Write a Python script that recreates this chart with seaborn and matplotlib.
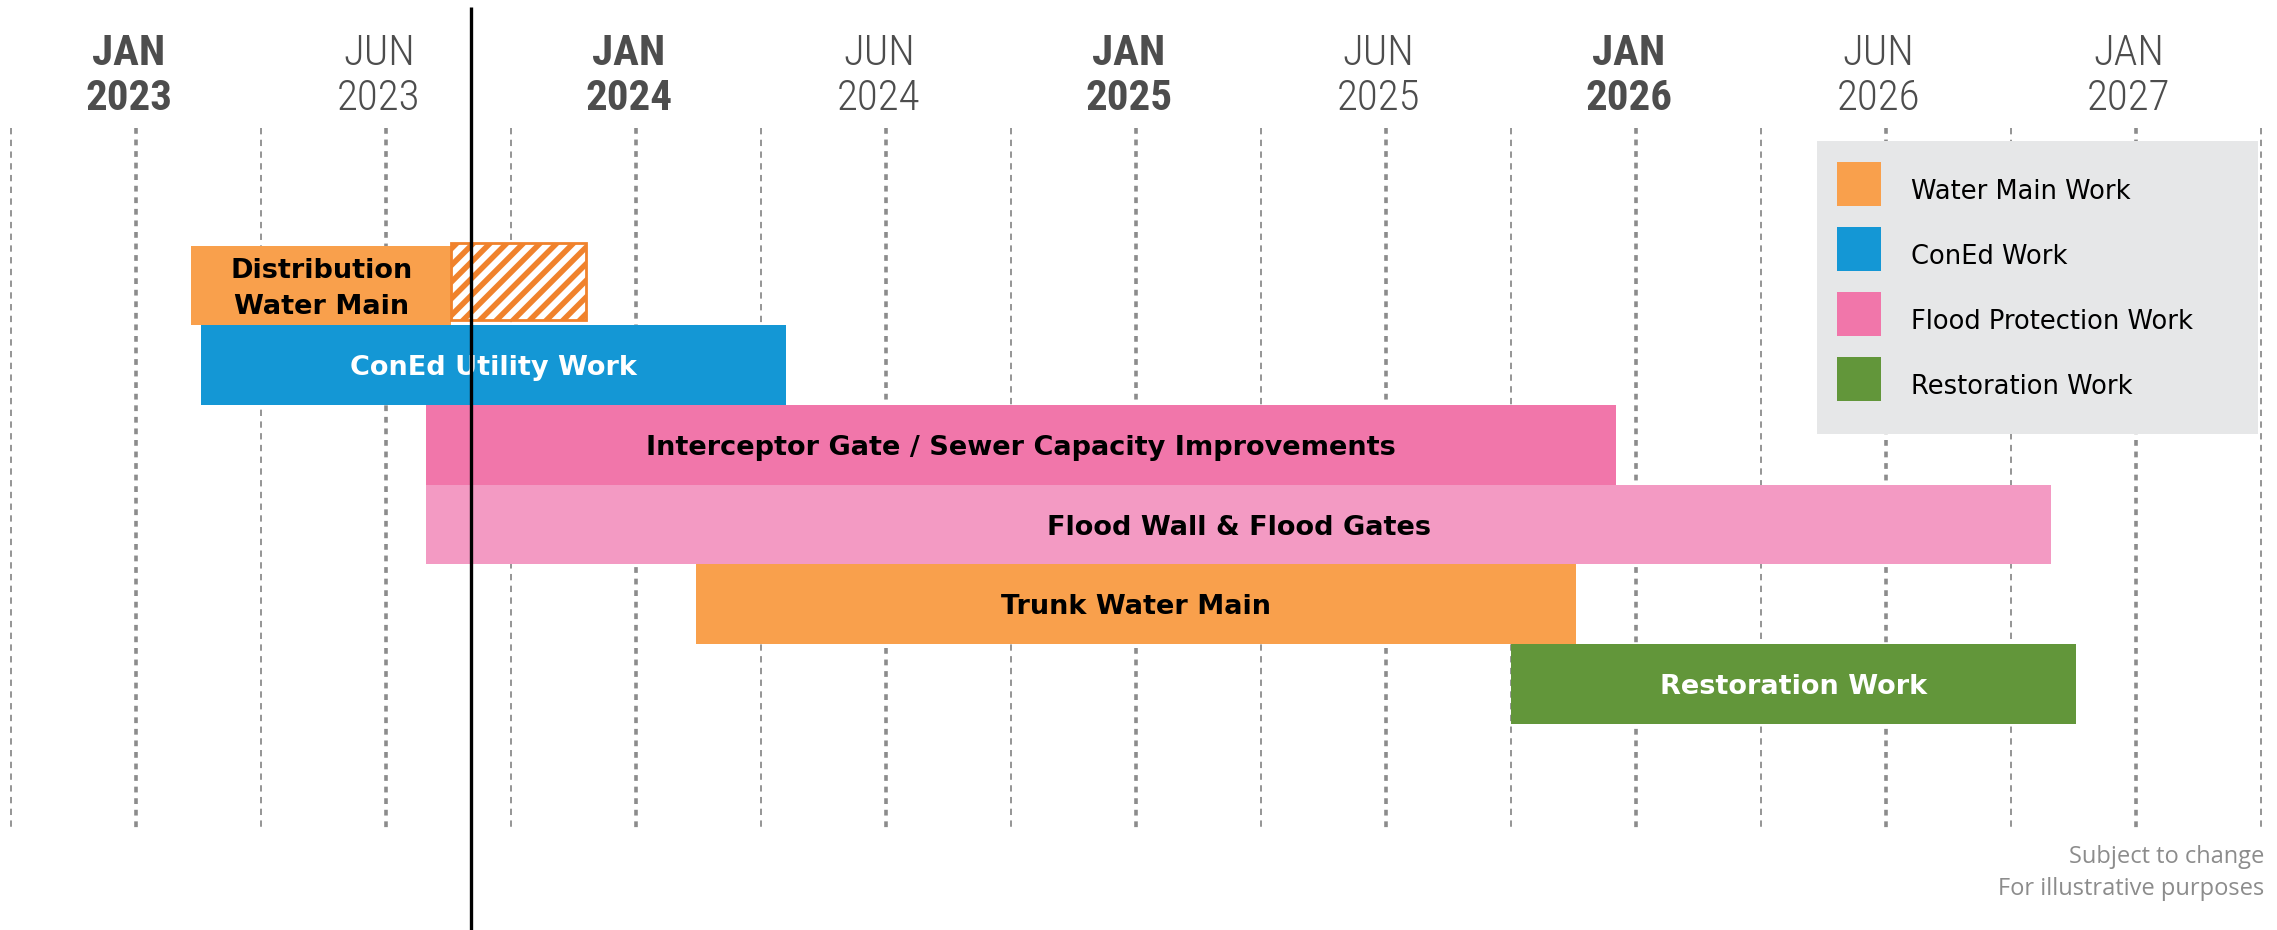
import matplotlib
matplotlib.use("Agg")
import matplotlib.pyplot as plt
from matplotlib.lines import Line2D
from matplotlib.patches import Rectangle
import pandas as pd
import seaborn as sns

# schedule, in decimal years (axis is drawn in half-year steps)
tasks = [
    "Distribution\nWater Main",
    "ConEd Utility Work",
    "Interceptor Gate / Sewer Capacity Improvements",
    "Flood Wall & Flood Gates",
    "Trunk Water Main",
    "Restoration Work",
]
starts = [2023.11, 2023.13, 2023.58, 2023.58, 2024.12, 2025.75]
ends = [2023.63, 2024.30, 2025.96, 2026.83, 2025.88, 2026.88]
categories = [
    "Water Main Work",
    "ConEd Work",
    "Flood Protection Work",
    "Flood Protection Work",
    "Water Main Work",
    "Restoration Work",
]
extension_start = 2023.63
extension_end = 2023.90
today = 2023.67

tick_pos = [2023, 2023.5, 2024, 2024.5, 2025, 2025.5, 2026, 2026.5, 2027]
tick_top = ["JAN", "JUN", "JAN", "JUN", "JAN", "JUN", "JAN", "JUN", "JAN"]
tick_bottom = ["2023", "2023", "2024", "2024", "2025", "2025", "2026", "2026", "2027"]
tick_bold = [True, False, True, False, True, False, True, False, False]

legend_labels = ["Water Main Work", "ConEd Work", "Flood Protection Work", "Restoration Work"]
legend_colors = ["#f9a04c", "#1497d5", "#f176aa", "#62963a"]
bar_colors = ["#f9a04c", "#1497d5", "#f176aa", "#f39ac3", "#f9a04c", "#62963a"]
text_colors = ["black", "white", "black", "black", "black", "white"]

df = pd.DataFrame({"task": tasks, "start": starts, "end": ends, "category": categories})

sns.set_theme(style="white")
plt.rcParams["font.family"] = ["DejaVu Sans"]
plt.rcParams["hatch.linewidth"] = 4

fig = plt.figure(figsize=(22.77, 9.30), dpi=100)
ax = fig.add_axes([0, 0, 1, 1])
ax.set_xlim(2022.727, 2027.282)
ax.set_ylim(8.091, -3.582)
ax.axis("off")

# dashed guides every quarter, heavier on JAN / JUN
for k in range(19):
    x = 2022.75 + 0.25 * k
    major = k % 2 == 1
    ax.vlines(x, -1.977, 6.814, colors="#8c8c8c",
              linewidth=2.6 if major else 1.3,
              linestyles=(0, (1.6, 1.6)) if major else (0, (3.5, 3)),
              zorder=1)

# bars
for i, row in df.iterrows():
    ax.barh(i, row["end"] - row["start"], left=row["start"], height=1.0,
            color=bar_colors[i], linewidth=0, zorder=2)
    ax.text((row["start"] + row["end"]) / 2, i + 0.04, row["task"], ha="center",
            va="center", color=text_colors[i], fontsize=19.5, fontweight="bold",
            linespacing=1.5, zorder=4)

# extended (hatched) distribution water main
ax.barh(-0.05, extension_end - extension_start, left=extension_start, height=0.97,
        facecolor="white", edgecolor="#f0822c", hatch="//", linewidth=2, zorder=2)

# today marker
ax.vlines(today, -3.49, 8.1, colors="black", linewidth=2.4, zorder=5)

# date labels
tick_font = ["Roboto Condensed", "DejaVu Sans"]
for x, top, bottom, bold in zip(tick_pos, tick_top, tick_bottom, tick_bold):
    w = "bold" if bold else "light"
    ax.text(x - 0.015, -2.907, top, ha="center", va="center", fontsize=31,
            color="#4d4d4d", fontweight=w, family=tick_font)
    ax.text(x - 0.015, -2.343, bottom, ha="center", va="center", fontsize=31,
            color="#4d4d4d", fontweight=w, family=tick_font)

# legend
ax.add_patch(Rectangle((1817 / 2277, 1 - 434 / 930), 441 / 2277, 293 / 930,
                       transform=fig.transFigure, facecolor="#e6e7e8",
                       edgecolor="none", zorder=3))
handles = [Line2D([], [], marker="s", markersize=32, markeredgewidth=0,
                  color=c, linestyle="none") for c in legend_colors]
leg = ax.legend(handles, legend_labels, loc="upper left",
                bbox_to_anchor=(1837 / 2277, 1 - 169 / 930),
                bbox_transform=fig.transFigure, frameon=False, fontsize=18.5,
                handlelength=1.75, handleheight=2.32, labelspacing=0.77,
                handletextpad=1.13, borderpad=0, borderaxespad=0,
                labelcolor="black")
leg.set_zorder(6)

fig.text(2264 / 2277, 1 - 857 / 930, "Subject to change", ha="right", va="center",
         fontsize=17, color="#8c8c8c", family="Open Sans")
fig.text(2264 / 2277, 1 - 889 / 930, "For illustrative purposes", ha="right",
         va="center", fontsize=17, color="#8c8c8c", family="Open Sans")

fig.savefig("out.png", dpi=100)
